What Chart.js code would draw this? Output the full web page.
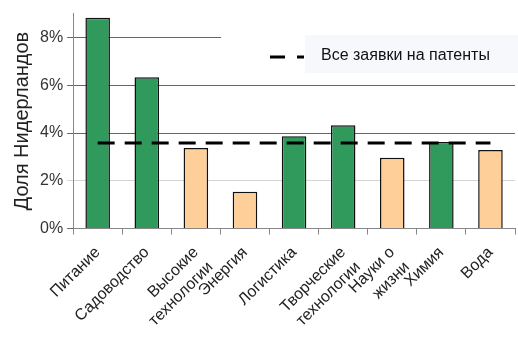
<!DOCTYPE html>
<html>
<head>
<meta charset="utf-8">
<script src="https://cdn.jsdelivr.net/npm/chart.js@4.4.1/dist/chart.umd.min.js"></script>
<style>
  html, body { margin: 0; padding: 0; background: #fff; }
  #wrap { width: 518px; height: 362px; position: relative; }
</style>
</head>
<body>
<div id="wrap"><canvas id="chart" width="518" height="362"></canvas></div>
<script>
// DATA
const categories = [
  'Питание', 'Садоводство', ['Высокие', 'технологии'], 'Энергия', 'Логистика',
  ['Творческие', 'технологии'], ['Науки о', 'жизни'], 'Химия', 'Вода'
];
const shares      = [8.83, 6.33, 3.37, 1.54, 3.87, 4.33, 2.96, 3.62, 3.29];
const isStrong    = [true, true, false, false, true, true, false, true, false];
const allPatents  = [3.58, 3.58, 3.58, 3.58, 3.58, 3.58, 3.58, 3.58, 3.58];
const legendLabel = 'Все заявки на патенты';
const axisTitle   = 'Доля Нидерландов';

const GREEN  = '#2f9a5c';
const ORANGE = '#ffcf9a';
const FONT   = 'Arial, "Liberation Sans", sans-serif';

// legend drawn by hand so it can sit inside the plot like the original
const legendBox = {
  id: 'legendBox',
  beforeDatasetsDraw(chart) {
    const { ctx } = chart;
    ctx.save();
    ctx.fillStyle = '#fff';
    ctx.fillRect(221, 28, 297, 46);
    ctx.fillStyle = '#f6f8fb';
    ctx.fillRect(305, 35, 213, 38);
    ctx.restore();
  },
  afterDatasetsDraw(chart) {
    const { ctx } = chart;
    ctx.save();
    ctx.strokeStyle = '#000';
    ctx.lineWidth = 3;
    ctx.setLineDash([15, 12]);
    ctx.beginPath();
    ctx.moveTo(270, 57);
    ctx.lineTo(304, 57);
    ctx.stroke();
    ctx.setLineDash([]);
    ctx.fillStyle = '#111';
    ctx.font = '16px "Liberation Sans Narrow", "Liberation Sans", Arial, sans-serif';
    ctx.textBaseline = 'middle';
    ctx.fillText(legendLabel, 321, 56);
    ctx.restore();
  }
};

const ctx = document.getElementById('chart').getContext('2d');
new Chart(ctx, {
  data: {
    labels: categories,
    datasets: [
      {
        type: 'line',
        label: legendLabel,
        data: allPatents,
        borderColor: '#000',
        borderWidth: 3,
        borderDash: [17, 10],
        pointRadius: 0,
        fill: false,
        order: 0
      },
      {
        type: 'bar',
        label: axisTitle,
        data: shares,
        backgroundColor: isStrong.map(s => s ? GREEN : ORANGE),
        borderColor: '#111',
        borderWidth: 1.5,
        categoryPercentage: 1,
        barPercentage: 0.5,
        order: 1
      }
    ]
  },
  plugins: [legendBox],
  options: {
    responsive: false,
    animation: false,
    layout: { padding: { top: 12, right: 3, bottom: 13, left: 6 } },
    plugins: {
      legend: { display: false },
      tooltip: { enabled: false }
    },
    scales: {
      x: {
        offset: true,
        grid: {
          offset: true,
          drawOnChartArea: false,
          drawTicks: true,
          tickLength: 6,
          color: '#888'
        },
        border: { color: '#888', width: 1 },
        ticks: {
          color: '#222',
          font: { family: FONT, size: 16, lineHeight: 1.3 },
          minRotation: 45,
          maxRotation: 45,
          autoSkip: false,
          padding: 8
        }
      },
      y: {
        min: 0,
        max: 9,
        afterBuildTicks: axis => {
          axis.ticks = axis.ticks.filter(t => t.value % 2 === 0);
        },
        ticks: {
          stepSize: 1,
          color: '#333',
          padding: 4,
          font: { family: FONT, size: 16 },
          callback: v => v + '%'
        },
        grid: {
          tickLength: 6,
          color: c => (c.tick && c.tick.value === 2) ? '#d4d4d4' : '#666',
          lineWidth: 1
        },
        border: { color: '#888', width: 1 },
        title: {
          display: true,
          text: axisTitle,
          color: '#222',
          font: { family: FONT, size: 20 },
          padding: { bottom: 2 }
        }
      }
    }
  }
});
</script>
</body>
</html>
